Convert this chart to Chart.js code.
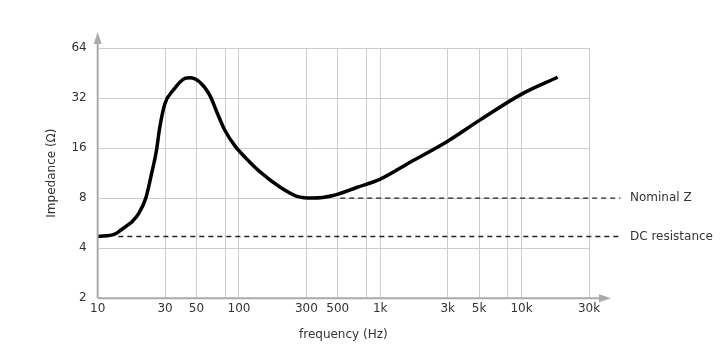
<!DOCTYPE html>
<html>
<head>
<meta charset="utf-8">
<script src="https://cdn.jsdelivr.net/npm/chart.js@4"></script>
<style>
  html, body { margin: 0; padding: 0; background: #fff; }
  #wrap { width: 723px; height: 359px; }
</style>
</head>
<body>
<div id="wrap"><canvas id="chart"></canvas></div>
<script>
// impedance curve (Hz, ohm)
const freqs = [10, 13.2, 14.6, 16.3, 17.7, 19.6, 21.9, 24.0, 26.0, 27.5, 29.9, 34.1, 41.4, 45, 52.9, 62.2, 69.9, 79.6, 93.6, 119, 141, 196, 258, 335, 465, 687, 1000, 1640, 3000, 5000, 10000, 18000];
const impedance = [4.7, 4.86, 5.14, 5.5, 5.83, 6.5, 8.0, 11.1, 15.3, 21.3, 29.6, 35.5, 42.0, 42.4, 39.8, 33.2, 26.2, 20.4, 16.5, 13.2, 11.5, 9.3, 8.2, 8.0, 8.3, 9.3, 10.4, 13.2, 17.6, 23.4, 33.8, 42.7];

const dcResistance = 4.7;
const dcRange = [14, 50000];
const nominalZ = 8;
const nominalRange = [520, 50000];

const xTicks = [10, 30, 50, 80, 100, 300, 500, 800, 1000, 3000, 5000, 8000, 10000, 30000];
const xLabels = ['10', '30', '50', '', '100', '300', '500', '', '1k', '3k', '5k', '', '10k', '30k'];
const yTicks = [2, 4, 8, 16, 32, 64];

const refNames = ['Nominal Z', 'DC resistance'];
const refValues = [nominalZ, dcResistance];

const textColor = '#333';
const font = { family: 'DejaVu Sans', size: 12 };

// axis lines with arrow heads and the labels of the dashed lines
const decorations = {
  id: 'decorations',
  afterDraw(chart) {
    const { ctx, chartArea, scales } = chart;
    ctx.save();
    ctx.strokeStyle = '#aaa';
    ctx.fillStyle = '#aaa';
    ctx.lineWidth = 2;
    ctx.beginPath();
    ctx.moveTo(chartArea.left, chartArea.bottom);
    ctx.lineTo(chartArea.right + 14, chartArea.bottom);
    ctx.moveTo(chartArea.left, chartArea.bottom);
    ctx.lineTo(chartArea.left, chartArea.top - 8);
    ctx.stroke();
    ctx.beginPath();
    ctx.moveTo(chartArea.right + 22, chartArea.bottom);
    ctx.lineTo(chartArea.right + 10, chartArea.bottom - 4);
    ctx.lineTo(chartArea.right + 10, chartArea.bottom + 4);
    ctx.closePath();
    ctx.fill();
    ctx.beginPath();
    ctx.moveTo(chartArea.left, chartArea.top - 16);
    ctx.lineTo(chartArea.left - 4, chartArea.top - 4);
    ctx.lineTo(chartArea.left + 4, chartArea.top - 4);
    ctx.closePath();
    ctx.fill();

    ctx.fillStyle = textColor;
    ctx.font = `${font.size}px ${font.family}`;
    ctx.textBaseline = 'middle';
    ctx.textAlign = 'left';
    refNames.forEach((name, i) => {
      ctx.fillText(name, chartArea.right + 41, scales.y.getPixelForValue(refValues[i]));
    });
    ctx.restore();
  },
};

new Chart(document.getElementById('chart'), {
  type: 'line',
  data: {
    datasets: [
      {
        data: freqs.map((f, i) => ({ x: f, y: impedance[i] })),
        borderColor: '#000',
        borderWidth: 3.5,
        pointRadius: 0,
        cubicInterpolationMode: 'monotone',
      },
      {
        data: dcRange.map((f) => ({ x: f, y: dcResistance })),
        borderColor: '#222',
        borderWidth: 1.3,
        borderDash: [5, 4],
        pointRadius: 0,
        clip: false,
      },
      {
        data: nominalRange.map((f) => ({ x: f, y: nominalZ })),
        borderColor: '#222',
        borderWidth: 1.3,
        borderDash: [5, 4],
        pointRadius: 0,
        clip: false,
      },
    ],
  },
  options: {
    responsive: true,
    maintainAspectRatio: false,
    animation: false,
    layout: { padding: { top: 48, right: 134, left: 45, bottom: 17 } },
    plugins: { legend: { display: false }, tooltip: { enabled: false } },
    scales: {
      x: {
        type: 'logarithmic',
        min: 10,
        max: 30000,
        afterBuildTicks: (scale) => { scale.ticks = xTicks.map((v) => ({ value: v })); },
        ticks: {
          autoSkip: false,
          maxRotation: 0,
          color: textColor,
          font,
          padding: 3,
          callback: (v, i) => xLabels[i],
        },
        grid: { color: '#ccc', lineWidth: 1, drawTicks: false },
        border: { display: false },
        title: { display: true, text: 'frequency (Hz)', color: textColor, font, padding: { top: 9, bottom: 0 } },
      },
      y: {
        type: 'logarithmic',
        min: 2,
        max: 64,
        afterBuildTicks: (scale) => { scale.ticks = yTicks.map((v) => ({ value: v })); },
        ticks: {
          color: textColor,
          font,
          padding: 11,
          callback: (v) => String(v),
        },
        grid: { color: '#ccc', lineWidth: 1, drawTicks: false },
        border: { display: false },
        title: { display: true, text: 'Impedance (Ω)', color: textColor, font, padding: { top: 0, bottom: 1 } },
      },
    },
  },
  plugins: [decorations],
});
</script>
</body>
</html>
